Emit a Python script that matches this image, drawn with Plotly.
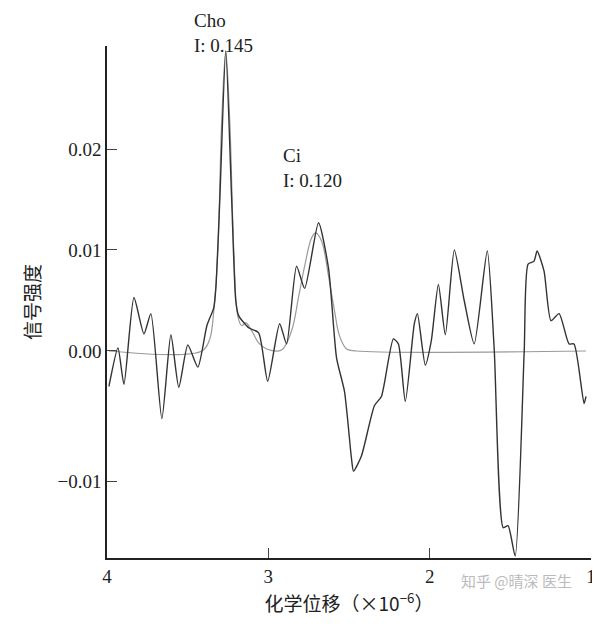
import plotly.graph_objects as go

# measured spectrum (black)
shift = [3.988, 3.932, 3.895, 3.833, 3.771, 3.728, 3.660, 3.604, 3.555, 3.499,
         3.437, 3.381, 3.338, 3.325, 3.301, 3.264, 3.227, 3.202, 3.184, 3.122,
         3.060, 3.004, 2.930, 2.887, 2.825, 2.775, 2.689, 2.627, 2.577, 2.528,
         2.485, 2.472, 2.423, 2.342, 2.299, 2.225, 2.194, 2.151, 2.095, 2.076,
         2.027, 1.990, 1.946, 1.903, 1.847, 1.786, 1.724, 1.643, 1.600, 1.544,
         1.514, 1.470, 1.414, 1.390, 1.353, 1.334, 1.291, 1.248, 1.198, 1.136,
         1.105, 1.043, 1.031]
signal = [-0.0035, 0.0003, -0.0033, 0.0053, 0.0017, 0.0037, -0.0067, 0.0016, -0.0036, 0.0006,
          -0.0016, 0.0025, 0.0043, 0.0063, 0.0149, 0.0297, 0.0149, 0.0050, 0.0035, 0.0023,
          0.0018, -0.0030, 0.0027, 0.0007, 0.0084, 0.0062, 0.0127, 0.0082, -0.0007, -0.0040,
          -0.0106, -0.0119, -0.0104, -0.0054, -0.0045, 0.0012, 0.0007, -0.0050, 0.0027, 0.0037,
          -0.0014, 0.0010, 0.0066, 0.0016, 0.0100, 0.0050, 0.0007, 0.0099, 0.0002, -0.0175,
          -0.0173, -0.0203, 0.0000, 0.0086, 0.0089, 0.0099, 0.0079, 0.0030, 0.0037, 0.0007,
          0.0007, -0.0052, -0.0045]

# fitted curve (grey)
fit_shift = [3.988, 3.412, 3.363, 3.338, 3.313, 3.289, 3.264, 3.239, 3.214, 3.190,
             3.165, 3.140, 3.103, 3.060, 3.010, 2.918, 2.856, 2.812, 2.775, 2.732,
             2.707, 2.670, 2.627, 2.590, 2.559, 2.515, 2.454, 1.031]
fit_signal = [0.0, 0.0, 0.0012, 0.0040, 0.0099, 0.0228, 0.0297, 0.0228, 0.0099, 0.0035,
              0.0025, 0.0028, 0.0020, 0.0008, 0.0002, 0.0001, 0.0020, 0.0054, 0.0084, 0.0112,
              0.0117, 0.0109, 0.0074, 0.0040, 0.0015, 0.0002, 0.0, 0.0]

y_tickvals = [-0.0129, 0.0, 0.01, 0.02]
y_ticktext = ["\u22120.01", "0.00", "0.01", "0.02"]
x_tickvals = [4, 3, 2, 1]

font = "Liberation Serif, Times New Roman, serif"

fig = go.Figure()
fig.add_trace(go.Scatter(x=fit_shift, y=fit_signal, mode="lines", line_shape="spline",
                         line=dict(color="#9a9a9a", width=1.2), hoverinfo="skip"))
fig.add_trace(go.Scatter(x=shift, y=signal, mode="lines", line_shape="spline",
                         line=dict(color="#333333", width=1.4, smoothing=0.6)))

fig.add_annotation(x=0.175, y=1.075, xref="paper", yref="paper", text="Cho<br>I: 0.145",
                   showarrow=False, xanchor="left", yanchor="top", align="left",
                   font=dict(family=font, size=19, color="#222"))
fig.add_annotation(x=0.36, y=0.81, xref="paper", yref="paper", text="Ci<br>I: 0.120",
                   showarrow=False, xanchor="left", yanchor="top", align="left",
                   font=dict(family=font, size=19, color="#222"))
fig.add_annotation(x=0.965, y=-0.02, xref="paper", yref="paper", text="知乎 @晴深 医生",
                   showarrow=False, xanchor="right", yanchor="top",
                   font=dict(family="Noto Sans CJK SC", size=15, color="#bbbbbb"))

fig.update_layout(
    width=600, height=635, showlegend=False,
    plot_bgcolor="white", paper_bgcolor="white",
    margin=dict(l=99, r=14, t=38, b=85),
    font=dict(family=font, size=19, color="#222"),
    xaxis=dict(range=[4, 1], tickvals=x_tickvals, ticks="inside", ticklen=10,
               showline=True, linecolor="#222", linewidth=1.5, showgrid=False, zeroline=False,
               title=dict(text="化学位移（×10<sup>−6</sup>）", standoff=12,
                          font=dict(family="Noto Sans CJK SC, " + font, size=19))),
    yaxis=dict(range=[-0.0205, 0.0302], tickvals=y_tickvals, ticktext=y_ticktext,
               ticks="inside", ticklen=10, showline=True, linecolor="#222", linewidth=1.5,
               showgrid=False, zeroline=False,
               title=dict(text="信号强度", standoff=12,
                          font=dict(family="Noto Sans CJK SC, " + font, size=19))),
)

fig.write_html("out.html")
